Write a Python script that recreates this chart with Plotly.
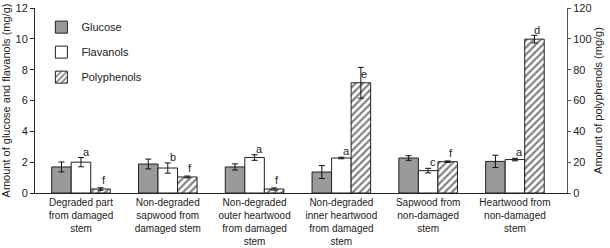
import plotly.graph_objects as go

categories = [
    "Degraded part<br>from damaged<br>stem",
    "Non-degraded<br>sapwood from<br>damaged stem",
    "Non-degraded<br>outer heartwood<br>from damaged<br>stem",
    "Non-degraded<br>inner heartwood<br>from damaged<br>stem",
    "Sapwood from<br>non-damaged<br>stem",
    "Heartwood from<br>non-damaged<br>stem",
]
glucose = [1.69, 1.88, 1.69, 1.36, 2.27, 2.05]
glucose_err = [0.32, 0.32, 0.2, 0.42, 0.15, 0.4]
flavanols = [2.0, 1.62, 2.3, 2.27, 1.45, 2.17]
flavanols_err = [0.3, 0.33, 0.18, 0.05, 0.15, 0.08]
polyphenols = [2.6, 10.4, 2.6, 71.5, 20.3, 99.8]
polyphenols_err = [0.8, 0.6, 0.7, 10.0, 0.5, 2.5]
flav_letters = ["a", "b", "a", "a", "c", "a"]
poly_letters = ["f", "f", "f", "e", "f", "d"]

FONT = "Liberation Sans, Arial, sans-serif"
idx = list(range(len(categories)))
W = 0.225
line = dict(color="#222222", width=1)
err_style = dict(type="data", visible=True, color="#111111", thickness=1, width=3)

fig = go.Figure()
fig.add_trace(go.Bar(
    name="Glucose", x=idx, y=glucose, width=W, offset=-1.5 * W,
    marker=dict(color="#9a9a9a", line=line),
    error_y=dict(array=glucose_err, **err_style),
    legendgroup="g", yaxis="y",
))
fig.add_trace(go.Bar(
    name="Flavanols", x=idx, y=flavanols, width=W, offset=-0.5 * W,
    marker=dict(color="white", line=line),
    error_y=dict(array=flavanols_err, **err_style),
    legendgroup="f", yaxis="y",
))
fig.add_trace(go.Bar(
    name="Polyphenols", x=idx, y=polyphenols, width=W, offset=0.5 * W,
    marker=dict(color="white", line=line,
                pattern=dict(shape="/", fgcolor="#000000", bgcolor="white",
                             size=5, solidity=0.42)),
    error_y=dict(array=polyphenols_err, **err_style),
    legendgroup="p", yaxis="y2",
))

annotations = []
for i in idx:
    annotations.append(dict(
        x=i, y=flavanols[i] + flavanols_err[i], xref="x", yref="y",
        text=flav_letters[i], showarrow=False, xanchor="center", yanchor="bottom",
        xshift=5, yshift=-2, font=dict(family=FONT, size=11, color="#222222"),
    ))
    annotations.append(dict(
        x=i + W, y=polyphenols[i], xref="x", yref="y2",
        text=poly_letters[i], showarrow=False, xanchor="center", yanchor="bottom",
        xshift=3, yshift=1, font=dict(family=FONT, size=11, color="#222222"),
    ))

fig.update_layout(
    width=610, height=248,
    margin=dict(l=35, r=43, t=8, b=55),
    paper_bgcolor="white", plot_bgcolor="white",
    font=dict(family=FONT, size=11, color="#222222"),
    barmode="overlay",
    showlegend=True,
    legend=dict(x=0.012, y=0.975, xanchor="left", yanchor="top",
                tracegroupgap=6, font=dict(size=11), bgcolor="rgba(0,0,0,0)"),
    annotations=annotations,
    xaxis=dict(
        tickmode="array", tickvals=idx, ticktext=categories, tickangle=0,
        automargin=False,
        range=[-0.53, 5.6], showline=True, linecolor="#222222", linewidth=1,
        ticks="", showgrid=False, zeroline=False, tickfont=dict(size=10),
    ),
    yaxis=dict(
        range=[0, 12], tickvals=[0, 2, 4, 6, 8, 10, 12], automargin=False,
        showline=True, linecolor="#222222", linewidth=1,
        ticks="outside", ticklen=4, tickcolor="#222222",
        showgrid=False, zeroline=False, tickfont=dict(size=11),
        title=dict(text="Amount of glucose and flavanols (mg/g)", standoff=4,
                   font=dict(size=11)),
    ),
    yaxis2=dict(
        range=[0, 120], tickvals=[0, 20, 40, 60, 80, 100, 120],
        overlaying="y", side="right", anchor="x", automargin=False,
        showline=True, linecolor="#555555", linewidth=1,
        ticks="outside", ticklen=3, tickcolor="#555555",
        showgrid=False, zeroline=False, tickfont=dict(size=11),
        title=dict(text="Amount of polyphenols (mg/g)", standoff=3,
                   font=dict(size=11)),
    ),
)

fig.write_html(
    "out.html",
    config={"displayModeBar": False},
    post_script="document.body.style.margin='0';document.body.style.overflow='hidden';",
)
